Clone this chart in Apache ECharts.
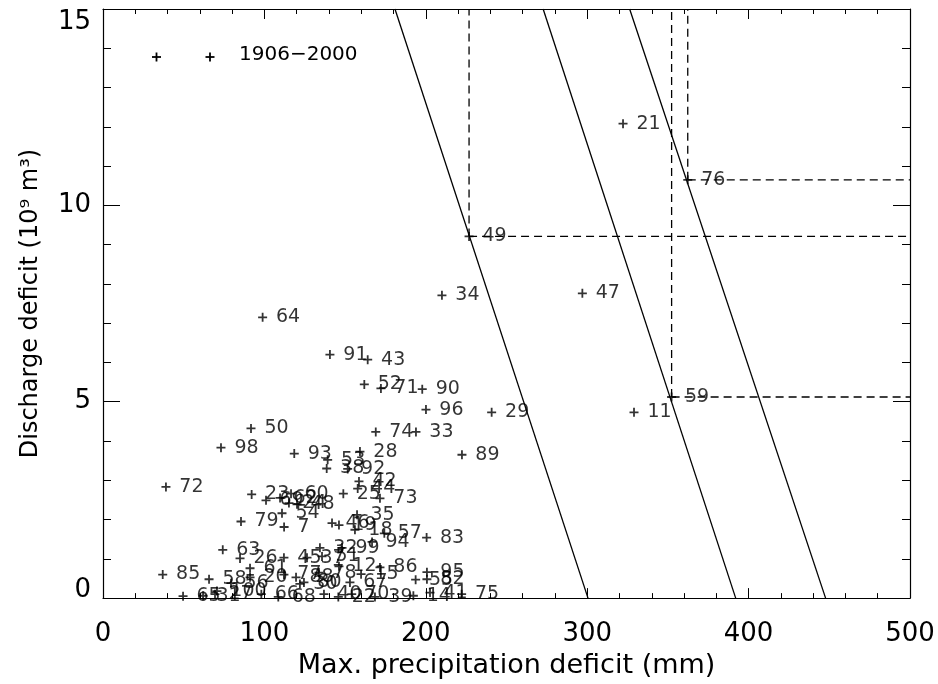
<!DOCTYPE html>
<html><head><meta charset="utf-8">
<script src="https://cdn.jsdelivr.net/npm/echarts@6/dist/echarts.min.js"></script>
<style>html,body{margin:0;padding:0;background:#fff}#c{width:938px;height:684px}</style>
</head><body><div id="c"></div>
<script>
const years = ['21','76','49','34','47','64','91','43','52','71','90','96','29','11','59','33','74','50','98','28','93','89','53','38','92','72','42','44','25','73','23','60','79','63','26','45','61','58','85','83','57','94','18','35','46','7','54','99','32','37','12','78','86','15','67','80','40','39','14','41','75','95','82','55','20','100','65','56','69','62','24','48','31','27','66','68','22','70','77','88','30','19','51'];
const precipDeficit = [322.2,362.3,226.8,210.0,297.0,98.9,140.6,164.0,161.9,172.2,197.8,200.1,240.8,329.0,352.3,193.9,169.0,91.7,73.1,159.2,118.5,222.4,139.2,138.6,151.6,39.0,158.6,157.8,148.9,171.6,92.1,116.5,85.5,74.2,84.9,112.1,91.1,65.7,37.0,200.5,174.3,166.7,156.1,157.4,141.9,112.2,110.9,148.1,134.4,126.4,146.2,133.8,171.6,159.9,153.0,124.5,136.9,168.5,192.3,202.6,222.2,200.7,200.7,193.7,91.1,70.6,49.6,79.3,101.0,109.7,115.2,120.2,62.0,69.4,98.1,108.6,145.8,154.1,112.1,119.6,122.0,146.2,135.7];
const dischargeDeficit = [12.08,10.65,9.21,7.71,7.76,7.15,6.20,6.07,5.44,5.34,5.32,4.80,4.73,4.73,5.12,4.23,4.23,4.32,3.83,3.73,3.68,3.65,3.52,3.30,3.29,2.83,2.97,2.79,2.66,2.54,2.64,2.66,1.95,1.23,1.01,1.03,0.76,0.48,0.60,1.54,1.65,1.43,1.74,2.12,1.91,1.81,2.16,1.28,1.28,1.03,0.81,0.65,0.78,0.61,0.40,0.40,0.10,0.03,0.06,0.14,0.10,0.66,0.48,0.47,0.53,0.18,0.05,0.38,2.49,2.55,2.42,2.39,0.06,0.10,0.10,0.03,0.03,0.10,0.60,0.53,0.36,1.86,1.06];
// Solid reference lines: x where each crosses the top (y=15) and bottom (y=0) of the plot
const lineTopX = [180.9, 272.7, 326.3];
const lineBottomX = [300.5, 392.0, 447.7];
// Years marked with dashed guide lines
const markedYears = ['49','59','76'];
const xTicks = [0,100,200,300,400,500];
const yTicks = [0,5,10,15];
const legendText = '1906\u22122000';

const FONT = 'DejaVu Sans';
const chart = echarts.init(document.getElementById('c'), null, {renderer:'canvas'});
const pts = years.map((y,i)=>({value:[precipDeficit[i], dischargeDeficit[i]], name:y}));
const plusPath = 'path://M5,0L5,10M0,5L10,5';

const solidSeries = lineTopX.map((tx,i)=>({
  type:'line', xAxisIndex:0, yAxisIndex:0, symbol:'none', silent:true,
  data:[[tx, yTicks[yTicks.length-1]],[lineBottomX[i], yTicks[0]]],
  lineStyle:{color:'#000', width:1.3}
}));
const dashSeries = [];
markedYears.forEach(yr=>{
  const i = years.indexOf(yr);
  const px = precipDeficit[i], py = dischargeDeficit[i];
  dashSeries.push({type:'line', symbol:'none', silent:true, data:[[px,py],[px,yTicks[yTicks.length-1]]], lineStyle:{color:'#000', width:1.3, type:[8,5]}});
  dashSeries.push({type:'line', symbol:'none', silent:true, data:[[px,py],[xTicks[xTicks.length-1],py]], lineStyle:{color:'#000', width:1.3, type:[8,5]}});
});

function axisX(pos, showLabel, extra){
  return Object.assign({
    type:'value', position:pos, min:0, max:500, interval:100,
    axisLine:{show:true, onZero:false, lineStyle:{color:'#000', width:1.2}},
    axisTick:{show:true, inside:true, length:10, lineStyle:{color:'#000', width:1}},
    minorTick:{show:true, splitNumber:5, length:5, lineStyle:{color:'#000', width:1}},
    splitLine:{show:false},
    axisLabel:{show:showLabel, color:'#000', fontFamily:FONT, fontSize:26, margin:23}
  }, extra||{});
}
function axisY(pos, showLabel, extra){
  return Object.assign({
    type:'value', position:pos, min:0, max:15, interval:5,
    axisLine:{show:true, onZero:false, lineStyle:{color:'#000', width:1.2}},
    axisTick:{show:true, inside:true, length:17, lineStyle:{color:'#000', width:1}},
    minorTick:{show:true, splitNumber:5, length:8, lineStyle:{color:'#000', width:1}},
    splitLine:{show:false},
    axisLabel:{show:showLabel, color:'#000', fontFamily:FONT, fontSize:26, margin:12,
      verticalAlignMaxLabel:'top',
      formatter:v=> v===yTicks[0] ? '{z|'+v+'}' : String(v),
      rich:{z:{fontFamily:FONT, fontSize:26, color:'#000', padding:[0,0,16,0]}}}
  }, extra||{});
}

chart.setOption({
  animation:false,
  backgroundColor:'#fff',
  grid:{left:103, right:28, top:9, bottom:80, containLabel:false},
  xAxis:[
    axisX('bottom', true, {name:'Max. precipitation deficit (mm)', nameLocation:'middle', nameGap:42,
      nameTextStyle:{color:'#000', fontFamily:FONT, fontSize:27}}),
    axisX('top', false)
  ],
  yAxis:[
    axisY('left', true, {name:'Discharge deficit (10\u2079 m\u00b3)', nameLocation:'middle', nameGap:60, nameRotate:90,
      nameTextStyle:{color:'#000', fontFamily:FONT, fontSize:24}}),
    axisY('right', false)
  ],
  series:[
    ...solidSeries,
    ...dashSeries,
    {
      type:'scatter', name:legendText, xAxisIndex:0, yAxisIndex:0,
      symbol:plusPath, symbolSize:9,
      itemStyle:{color:'rgba(0,0,0,0)', borderColor:'#000', borderWidth:1.8},
      label:{show:true, formatter:p=>p.name, position:'right', distance:8, offset:[0,-10],
        color:'#000', fontFamily:FONT, fontSize:19},
      labelLayout:{hideOverlap:false},
      data:pts
    }
  ],
  graphic:[
    {type:'line', shape:{x1:152,y1:57,x2:161,y2:57}, style:{stroke:'#000', lineWidth:1.8}},
    {type:'line', shape:{x1:156.5,y1:52.5,x2:156.5,y2:61.5}, style:{stroke:'#000', lineWidth:1.8}},
    {type:'line', shape:{x1:205.5,y1:57,x2:214.5,y2:57}, style:{stroke:'#000', lineWidth:1.8}},
    {type:'line', shape:{x1:210,y1:52.5,x2:210,y2:61.5}, style:{stroke:'#000', lineWidth:1.8}},
    {type:'text', left:239, top:45, style:{text:legendText, fill:'#000', font:'20px "DejaVu Sans"'}}
  ]
});
</script></body></html>
